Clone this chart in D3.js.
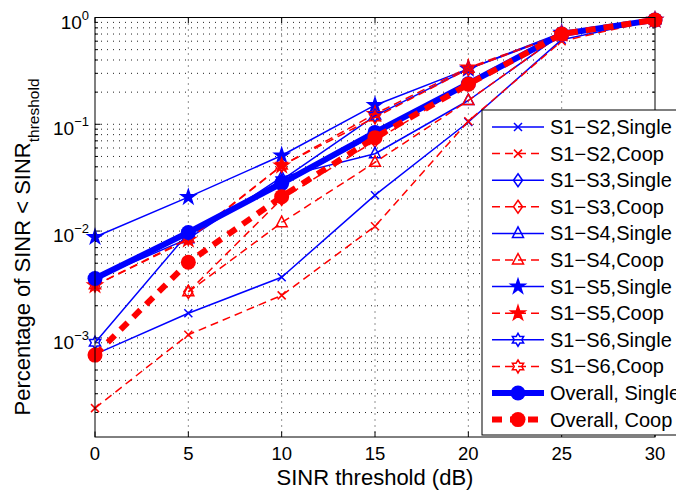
<!DOCTYPE html>
<html>
<head>
<meta charset="utf-8">
<script src="https://cdn.jsdelivr.net/npm/d3@7"></script>
<style>
body { margin: 0; background: #fff; }
text { font-family: "Liberation Sans", Arial, sans-serif; }
</style>
</head>
<body>
<svg id="fig" width="676" height="496"></svg>
<script>
// SINR thresholds (dB) on x
var thresholds = [0, 5, 10, 15, 20, 25, 30];

// fraction of users below threshold (null = not plotted)
var s12Single = [7.0e-4, 1.7e-3, 3.7e-3, 0.0217, 0.105, 0.62, 0.95];
var s12Coop   = [2.2e-4, 1.07e-3, 2.5e-3, 0.0111, 0.107, 0.60, 0.95];
var s13Single = [3.6e-3, 9.5e-3, 0.027, 0.080, 0.24, 0.70, 0.95];
var s13Coop   = [null, 2.7e-3, 0.020, 0.070, 0.24, 0.70, 0.95];
var s14Single = [3.6e-3, 8.5e-3, 0.032, 0.053, 0.167, 0.70, 0.95];
var s14Coop   = [null, 2.7e-3, 0.012, 0.044, 0.167, 0.70, 0.95];
var s15Single = [8.8e-3, 0.0208, 0.051, 0.151, 0.33, 0.72, 0.95];
var s15Coop   = [3.1e-3, 8.3e-3, 0.041, 0.125, 0.34, 0.70, 0.95];
var s16Single = [9.0e-4, 9.6e-3, 0.030, 0.120, 0.33, 0.70, 0.95];
var s16Coop   = [3.1e-3, 8.5e-3, 0.041, 0.116, 0.33, 0.70, 0.95];
var allSingle = [3.6e-3, 9.7e-3, 0.028, 0.084, 0.24, 0.70, 0.95];
var allCoop   = [6.9e-4, 5.1e-3, 0.021, 0.075, 0.237, 0.70, 0.95];

var seriesNames = ["S1\u2212S2,Single", "S1\u2212S2,Coop", "S1\u2212S3,Single", "S1\u2212S3,Coop",
    "S1\u2212S4,Single", "S1\u2212S4,Coop", "S1\u2212S5,Single", "S1\u2212S5,Coop",
    "S1\u2212S6,Single", "S1\u2212S6,Coop", "Overall, Single", "Overall, Coop"];

var xTicks = [0, 5, 10, 15, 20, 25, 30];
var yTicks = [1e-3, 1e-2, 1e-1, 1];
var yTickExp = ["\u22123", "\u22122", "\u22121", "0"];

var values = [s12Single, s12Coop, s13Single, s13Coop, s14Single, s14Coop,
    s15Single, s15Coop, s16Single, s16Coop, allSingle, allCoop];
var markers = ["x", "x", "d", "d", "^", "^", "p", "p", "h", "h", "o", "o"];

var series = values.map(function (v, i) {
    var coop = i % 2 == 1;
    var thick = i >= 10;
    return {
        name: seriesNames[i],
        pts: thresholds.map(function (t, j) { return {x: t, y: v[j]}; }),
        color: coop ? "#ff0000" : "#0000ff",
        dash: coop ? (thick ? "10,8" : "8,5") : null,
        width: thick ? 6 : 1.5,
        marker: markers[i]
    };
});

var fig = d3.select("#fig");
var L = 95, R = 655, T = 17.5, B = 437;

var x = d3.scaleLinear().domain([0, 30]).range([L, R]);
var y = d3.scaleLog().domain([1.18e-4, 1]).range([B, T]);

// dotted grid
var minorVals = [];
for (var e = -4; e <= 0; e++) {
    for (var m = 1; m <= 9; m++) {
        var v = m * Math.pow(10, e);
        if (v > 1.18e-4 && v < 1) minorVals.push(v);
    }
}
var grid = fig.append("g");
grid.selectAll("line.gy").data(minorVals).enter().append("line")
    .attr("x1", L).attr("x2", R)
    .attr("y1", function (d) { return y(d); }).attr("y2", function (d) { return y(d); })
    .attr("stroke", "#222").attr("stroke-width", 1).attr("stroke-dasharray", "1,5");
grid.selectAll("line.gx").data(xTicks.slice(1, -1)).enter().append("line")
    .attr("y1", T).attr("y2", B)
    .attr("x1", function (d) { return x(d); }).attr("x2", function (d) { return x(d); })
    .attr("stroke", "#222").attr("stroke-width", 1).attr("stroke-dasharray", "1,5");

// ticks (inside, on all four sides)
var tk = fig.append("g").attr("stroke", "#000").attr("stroke-width", 1);
xTicks.forEach(function (t) {
    tk.append("line").attr("x1", x(t)).attr("x2", x(t)).attr("y1", B).attr("y2", B - 5.5);
    tk.append("line").attr("x1", x(t)).attr("x2", x(t)).attr("y1", T).attr("y2", T + 5.5);
});
minorVals.forEach(function (v) {
    var len = yTicks.indexOf(v) >= 0 ? 5.5 : 3;
    tk.append("line").attr("x1", L).attr("x2", L + len).attr("y1", y(v)).attr("y2", y(v));
    tk.append("line").attr("x1", R).attr("x2", R - len).attr("y1", y(v)).attr("y2", y(v));
});

// marker shapes
function markerPath(type) {
    if (type == "x") return "M-4,-4L4,4M-4,4L4,-4";
    if (type == "d") return "M0,-6.5L4.5,0L0,6.5L-4.5,0Z";
    if (type == "^") return "M0,-6.5L5.5,4L-5.5,4Z";
    var n = type == "p" ? 5 : 6;
    var ro = type == "p" ? 7.5 : 6.5;
    var ri = type == "p" ? ro * 0.382 : ro / Math.sqrt(3);
    var p = [];
    for (var k = 0; k < 2 * n; k++) {
        var a = -Math.PI / 2 + k * Math.PI / n;
        var r = k % 2 == 0 ? ro : ri;
        p.push([r * Math.cos(a), r * Math.sin(a)]);
    }
    return "M" + p.join("L") + "Z";
}

function drawMarker(g, s, cx, cy) {
    if (s.marker == "o") {
        g.append("circle").attr("cx", cx).attr("cy", cy).attr("r", 7.5).attr("fill", s.color);
    } else {
        g.append("path").attr("d", markerPath(s.marker))
            .attr("transform", "translate(" + cx + "," + cy + ")")
            .attr("fill", s.marker == "p" ? s.color : "none")
            .attr("stroke", s.color).attr("stroke-width", 1.5);
    }
}

var line = d3.line()
    .defined(function (d) { return d.y != null; })
    .x(function (d) { return x(d.x); })
    .y(function (d) { return y(d.y); });

series.forEach(function (s) {
    var g = fig.append("g");
    g.append("path").datum(s.pts).attr("d", line)
        .attr("fill", "none").attr("stroke", s.color).attr("stroke-width", s.width)
        .attr("stroke-dasharray", s.dash).attr("stroke-linejoin", "round");
    s.pts.filter(function (d) { return d.y != null; }).forEach(function (d) {
        drawMarker(g, s, x(d.x), y(d.y));
    });
});

// axes box
fig.append("rect").attr("x", L).attr("y", T).attr("width", R - L).attr("height", B - T)
    .attr("fill", "none").attr("stroke", "#000").attr("stroke-width", 1);

// tick labels
fig.selectAll("text.xt").data(xTicks).enter().append("text")
    .attr("x", function (d) { return x(d); }).attr("y", 460)
    .attr("text-anchor", "middle").attr("font-size", 18.5)
    .text(function (d) { return d; });

yTicks.forEach(function (t, i) {
    var lab = fig.append("text").attr("x", 89).attr("y", y(t) + 11)
        .attr("text-anchor", "end").attr("font-size", 19);
    lab.append("tspan").text("10");
    lab.append("tspan").attr("dy", -9).attr("font-size", 13).text(yTickExp[i]);
});

// axis labels
fig.append("text").attr("x", 375).attr("y", 485).attr("text-anchor", "middle")
    .attr("font-size", 22).text("SINR threshold (dB)");

var yl = fig.append("text").attr("transform", "translate(30,247) rotate(-90)")
    .attr("text-anchor", "middle").attr("font-size", 22);
yl.append("tspan").text("Percentage of SINR < SINR");
yl.append("tspan").attr("dy", 9).attr("font-size", 15.5).text("threshold");

// legend (runs past the right edge, as in the original figure)
var lg = fig.append("g");
lg.append("rect").attr("x", 482).attr("y", 110).attr("width", 300).attr("height", 325)
    .attr("fill", "#fff").attr("stroke", "#000").attr("stroke-width", 1);
series.forEach(function (s, i) {
    var ry = 127 + i * 26.6;
    lg.append("line").attr("x1", 492).attr("x2", 544).attr("y1", ry).attr("y2", ry)
        .attr("stroke", s.color).attr("stroke-width", s.width).attr("stroke-dasharray", s.dash);
    drawMarker(lg, s, 518, ry);
    lg.append("text").attr("x", 550).attr("y", ry + 7).attr("font-size", 20).text(s.name);
});
</script>
</body>
</html>
